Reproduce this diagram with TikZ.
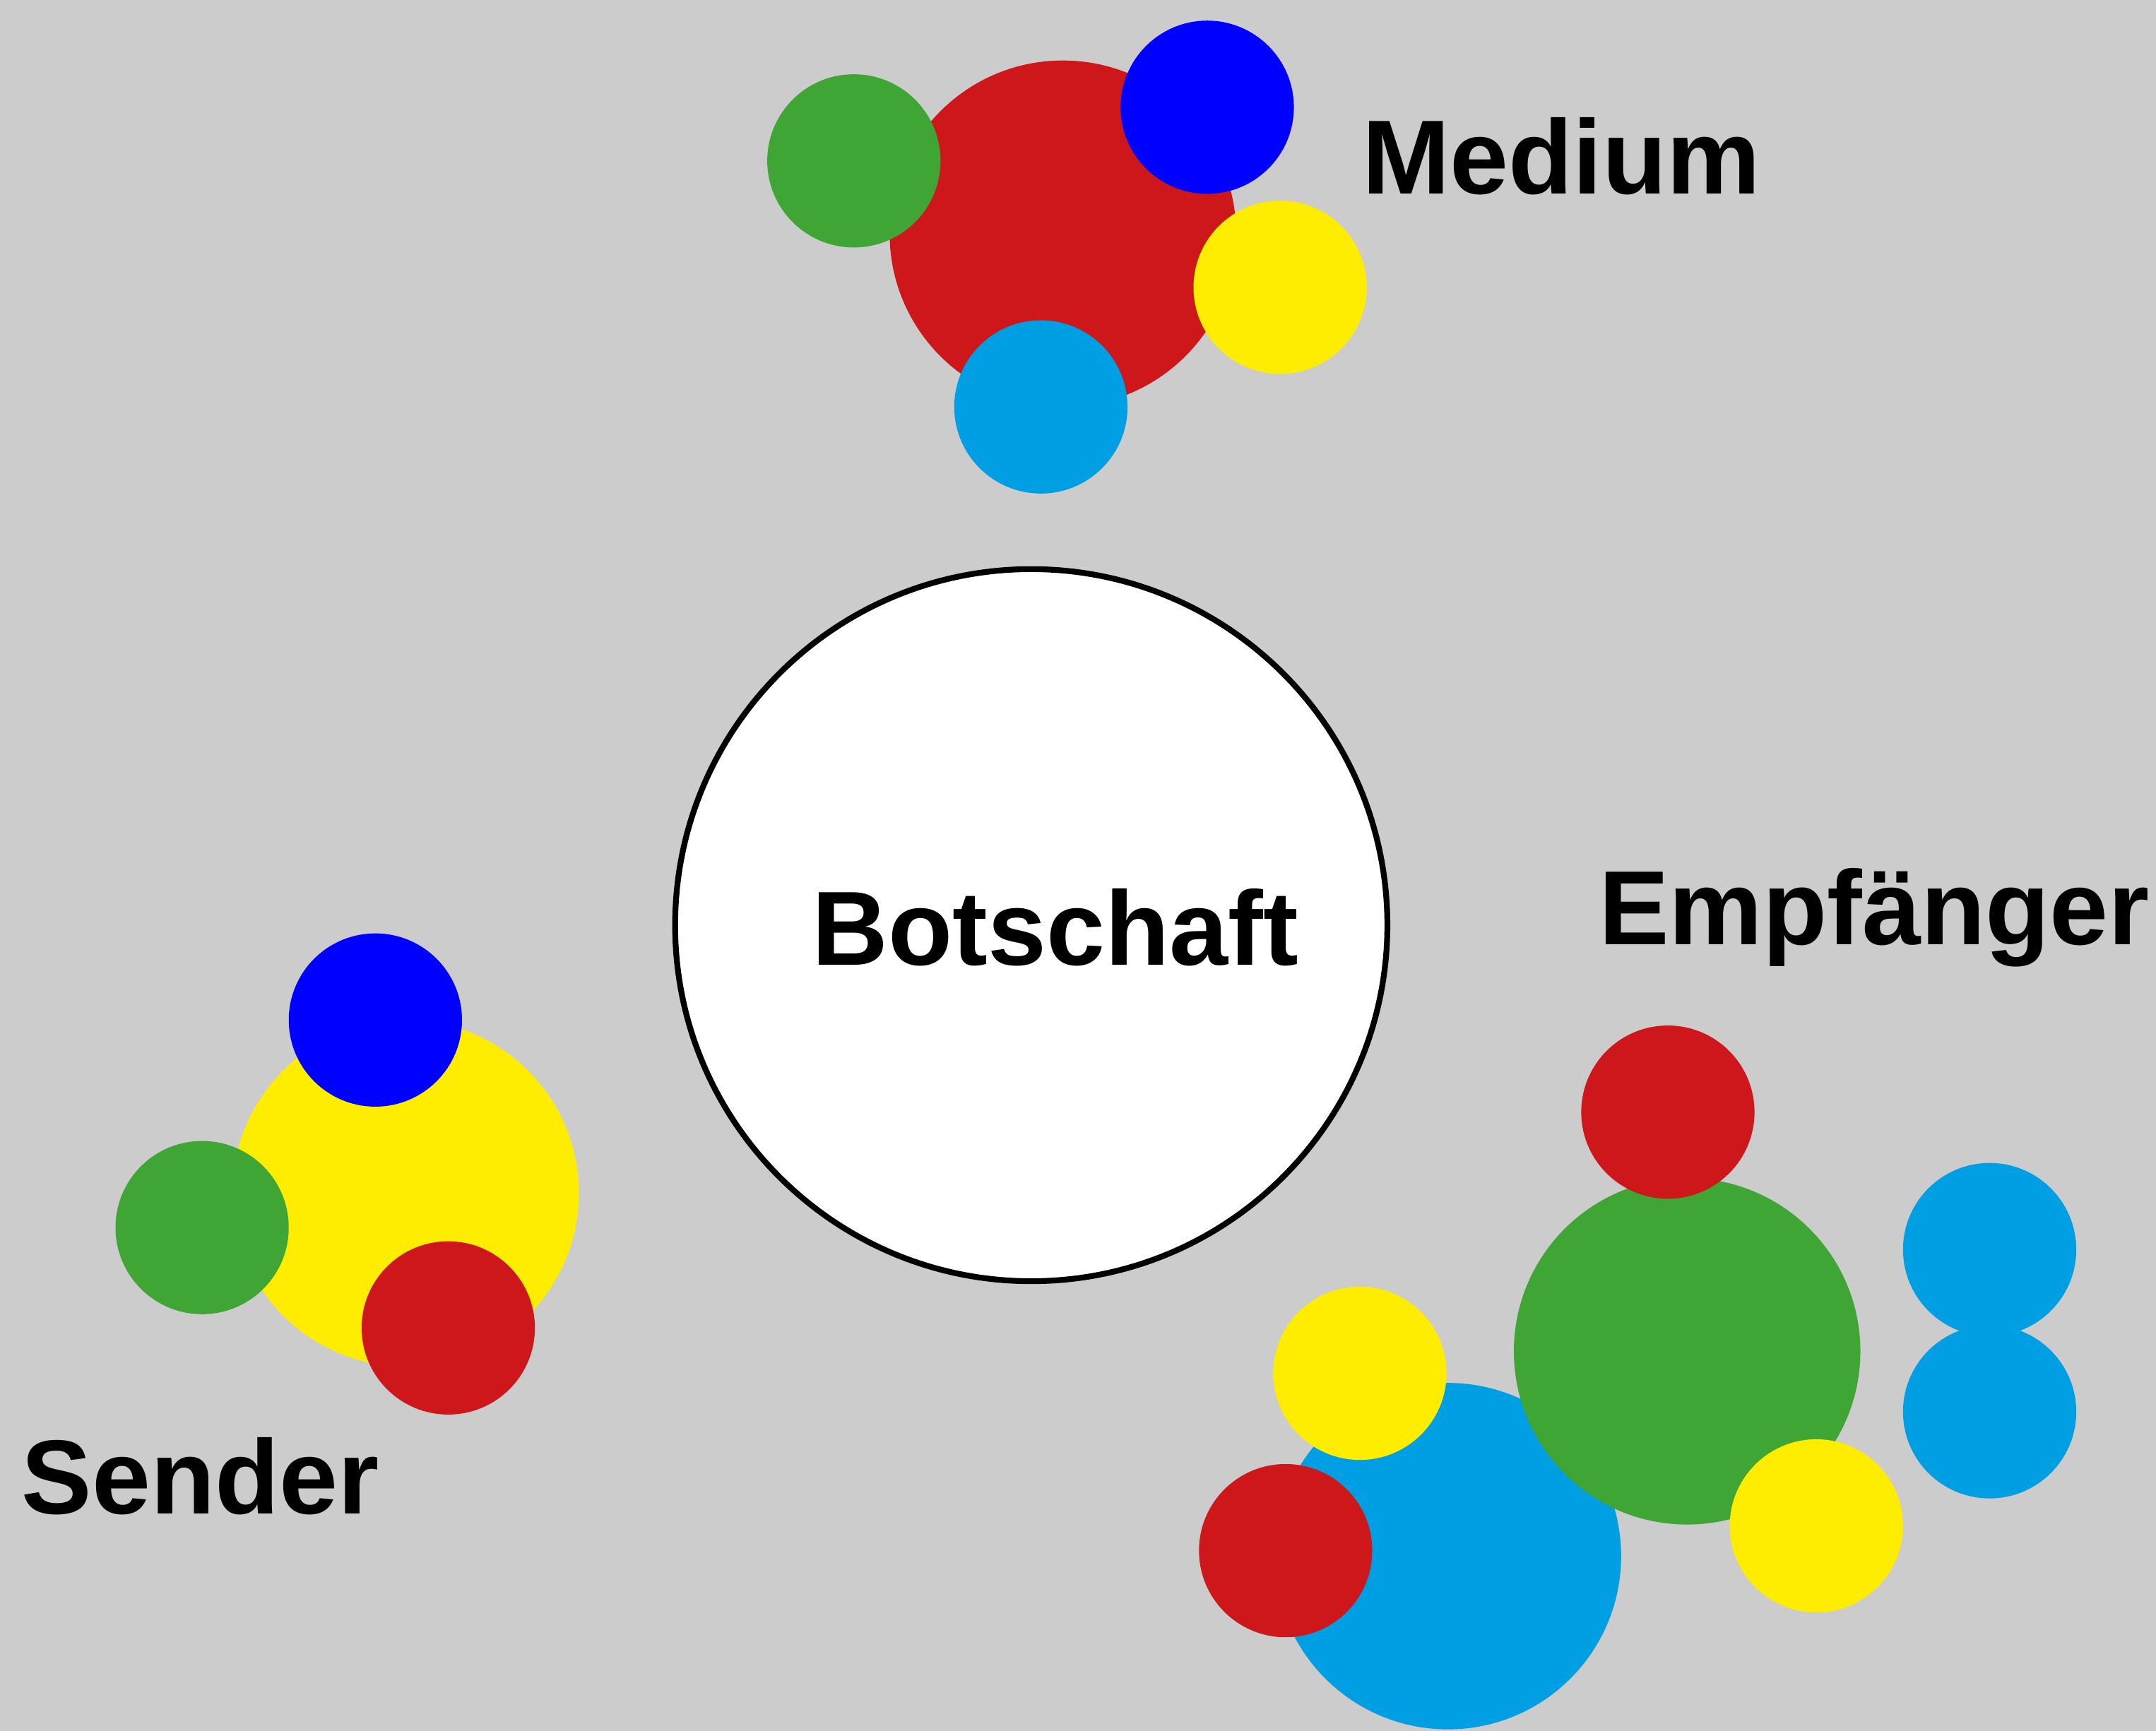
\documentclass[tikz,border=0pt]{standalone}
\usepackage{fontspec}
\newfontfamily\labfont{Liberation Sans}
\definecolor{bg}{HTML}{CCCCCC}
\definecolor{cred}{HTML}{CD171A}
\definecolor{cgreen}{HTML}{3FA535}
\definecolor{cblue}{HTML}{0000FF}
\definecolor{cyel}{HTML}{FFED00}
\definecolor{ccyan}{HTML}{009FE3}
\tikzset{lab/.style={font=\labfont\bfseries\fontsize{21.8}{26}\selectfont, inner sep=0pt, anchor=base west}}
\begin{document}
\begin{tikzpicture}[x=0.01cm,y=-0.01cm]
\fill[bg] (0,0) rectangle (1568,1259);
\useasboundingbox (0,0) rectangle (1568,1259);
% Medium
\fill[cred] (773,170) circle (126);
\fill[cgreen] (621,117) circle (63);
\fill[cblue] (878,78) circle (63);
\fill[cyel] (931,209) circle (63);
\fill[ccyan] (757,296) circle (63);
% Botschaft
\draw[line width=1.2pt, fill=white] (750,673) circle (259);
% Sender
\fill[cyel] (295,868) circle (126);
\fill[cblue] (273,742) circle (63);
\fill[cgreen] (147,893) circle (63);
\fill[cred] (326,966) circle (63);
% Empfaenger
\fill[ccyan] (1053,1132) circle (126);
\fill[cgreen] (1227,983) circle (126);
\fill[cred] (1213,809) circle (63);
\fill[cyel] (989,999) circle (63);
\fill[cred] (935,1128) circle (63);
\fill[cyel] (1321,1110) circle (63);
\fill[ccyan] (1447,909) circle (63);
\fill[ccyan] (1447,1027) circle (63);
% labels
\node[lab] (medium) at (990,141) {Medium};
\node[lab] (botschaft) at (590,702) {Botschaft};
\node[lab] (empf) at (1162,687) {Empfänger};
\node[lab] (sender) at (15,1101) {Sender};
\end{tikzpicture}
\end{document}
